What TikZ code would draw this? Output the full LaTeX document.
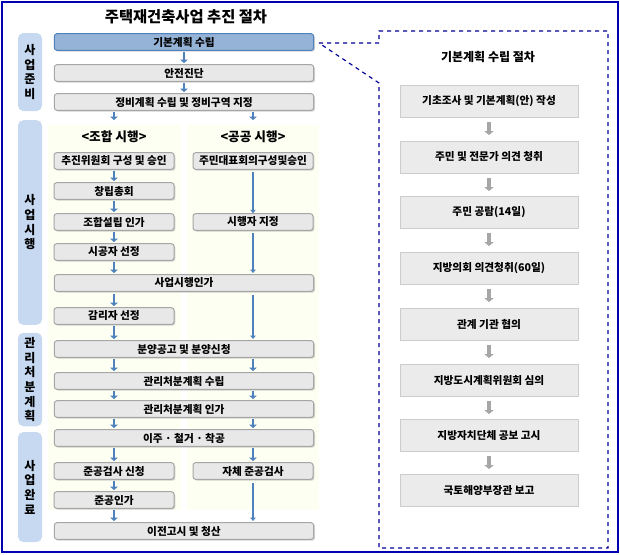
\documentclass[tikz,border=0pt]{standalone}
\usepackage{fontspec}
\setmainfont{Noto Sans CJK KR}
\usetikzlibrary{shadows,arrows.meta}
\tikzset{every picture/.style={line width=0.75pt}}
\definecolor{steel}{RGB}{79,129,189}
\definecolor{phaseblue}{RGB}{198,217,241}
\tikzset{
  stepbox/.style={draw=black!35,fill=black!9,rounded corners=2pt,drop shadow={opacity=0.35,shadow xshift=1pt,shadow yshift=-1pt},inner sep=0pt,font=\fontsize{8}{9.5}\selectfont\bfseries},
  phasebox/.style={fill=phaseblue,draw=none,rounded corners=4pt,align=center,font=\fontsize{9}{11}\selectfont\bfseries},
  planbox/.style={draw=black!20,fill=black!8,drop shadow={opacity=0.25,shadow xshift=1pt,shadow yshift=-1pt},minimum width=133.5pt,minimum height=24pt,inner sep=0pt,font=\fontsize{8}{9.5}\selectfont\bfseries},
  down/.style={draw=steel,line width=2.2pt,-{Triangle[length=2.5pt,width=5.5pt]}},
  longdown/.style={draw=steel,line width=1.5pt,-{Triangle[length=2.5pt,width=4pt]}},
  graydown/.style={draw=black!35,line width=3pt,-{Triangle[length=3pt,width=7pt]}}
}
\begin{document}
\begin{tikzpicture}[x=0.75pt,y=0.75pt,yscale=-1,xscale=1]
    \useasboundingbox (0,0) rectangle (620,554);
    % frame
    \draw [blue!70!black,line width=1pt] (2,2) rectangle (618,552);
    % green panels
    \fill [green!20!yellow!5!white] (48,125) rectangle (181,510);
    \fill [green!20!yellow!5!white] (187,125) rectangle (319,510);
    % title
    \node (title) at (186,17) {\fontsize{11.5}{13}\selectfont\bfseries 주택재건축사업 추진 절차};
    % phases
    \node [phasebox,minimum width=18pt,minimum height=58.5pt] (ph1) at (30,72) {사\\업\\준\\비};
    \node [phasebox,minimum width=18pt,minimum height=153.5pt] (ph2) at (30,222.5) {사\\업\\시\\행};
    \node [phasebox,minimum width=18pt,minimum height=56pt] (ph3) at (30,379.5) {관\\리\\처\\분\\계\\획};
    \node [phasebox,minimum width=18pt,minimum height=82.5pt] (ph4) at (30,487) {사\\업\\완\\료};
    % wide boxes
    \foreach \nm/\yy/\tx in {safe/73/안전진단,plan/102/정비계획 수립 및 정비구역 지정,permit/283/사업시행인가,sale/349/분양공고 및 분양신청,mgmt/381/관리처분계획 수립,mgmtok/409/관리처분계획 인가,move/438/이주 · 철거 · 착공,finish/531/이전고시 및 청산}
      \node [stepbox,minimum width=194.5pt,minimum height=12.5pt] (\nm) at (184,\yy) {\tx};
    \node [stepbox,fill=steel!60,draw=steel,minimum width=194.5pt,minimum height=12.5pt] (basic) at (184,42) {기본계획 수립};
    % left column
    \node (coop) at (114,137) {\fontsize{9.5}{11}\selectfont\bfseries <조합 시행>};
    \foreach \nm/\yy/\tx in {comm/161/추진위원회 구성 및 승인,found/191/창립총회,union/222/조합설립 인가,builder/252/시공자 선정,super/316/감리자 선정,check/471/준공검사 신청,done/500/준공인가}
      \node [stepbox,minimum width=90pt,minimum height=12.5pt] (\nm) at (114,\yy) {\tx};
    % right column
    \node (pub) at (253,137) {\fontsize{9.5}{11}\selectfont\bfseries <공공 시행>};
    \foreach \nm/\yy/\tx in {rep/161/주민대표회의구성및승인,appoint/222/시행자 지정,self/471/자체 준공검사}
      \node [stepbox,minimum width=90pt,minimum height=12.5pt] (\nm) at (253,\yy) {\tx};
    % arrows
    \draw [down] (184,52) -- (184,63);
    \draw [down] (184,83) -- (184,92);
    \foreach \ya/\yb in {112/120,171/181,201/212,232/242,262/273,294/306,326/339,359/371,391/399,419/428,448/461,481/490,510/521}
      \draw [down,line width=1.3pt] (114,\ya) -- (114,\yb);
    \foreach \ya/\yb in {112/120,359/371,391/399,419/428,448/461}
      \draw [down,line width=1.3pt] (253,\ya) -- (253,\yb);
    \draw [longdown] (253,172) -- (appoint.north);
    \draw [longdown] (253,233) -- (253,273);
    \draw [longdown] (253,295) -- (253,339);
    \draw [longdown] (253,483) -- (253,521);
    % callout
    \coordinate (tip) at (319,43);
    \draw [blue!60!black,dashed,line width=0.9pt] (tip) -- (379,43) -- (379,31) -- (608,31) -- (608,548) -- (379,548) -- (379,83) -- (tip);
    \node (ptitle) at (488,57) {\fontsize{9}{10.5}\selectfont\bfseries 기본계획 수립 절차};
    \foreach \nm/\yy/\tx in {p1/101/기초조사 및 기본계획(안) 작성,p2/157/주민 및 전문가 의견 청취,p3/212/주민 공람(14일),p4/268/지방의회 의견청취(60일),p5/324/관계 기관 협의,p6/380/지방도시계획위원회 심의,p7/435/지방자치단체 공보 고시,p8/490/국토해양부장관 보고}
      \node [planbox] (\nm) at (489,\yy) {\tx};
    \foreach \ya in {101,157,212,268,324,380,435}
      \draw [graydown] (489,\ya+21) -- (489,\ya+34);
\end{tikzpicture}
\end{document}
